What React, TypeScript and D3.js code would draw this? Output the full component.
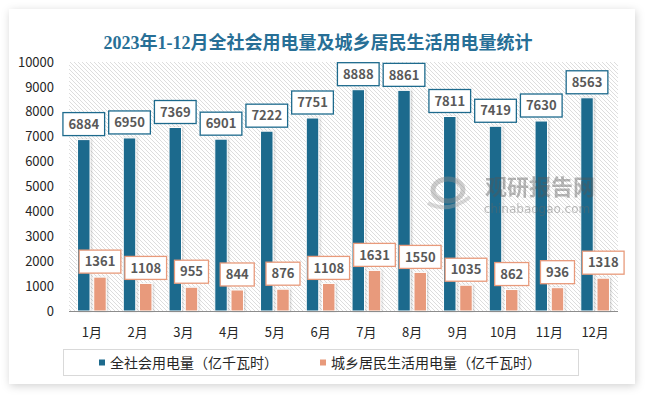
import React, { useRef, useEffect } from "react";
import * as d3 from "d3";

const months = ["1月", "2月", "3月", "4月", "5月", "6月", "7月", "8月", "9月", "10月", "11月", "12月"];
const totalUse = [6884, 6950, 7369, 6901, 7222, 7751, 8888, 8861, 7811, 7419, 7630, 8563];
const residentUse = [1361, 1108, 955, 844, 876, 1108, 1631, 1550, 1035, 862, 936, 1318];
const seriesNames = ["全社会用电量（亿千瓦时）", "城乡居民生活用电量（亿千瓦时）"];
const seriesColors = ["#1d6a8d", "#e89a7b"];
const yTicks = [0, 1000, 2000, 3000, 4000, 5000, 6000, 7000, 8000, 9000, 10000];
const title = "2023年1-12月全社会用电量及城乡居民生活用电量统计";

const W = 647;
const H = 395;
const FONT = "'Noto Sans CJK SC', 'Noto Sans', sans-serif";

const App: React.FC = () => {
  const ref = useRef<SVGSVGElement | null>(null);

  useEffect(() => {
    const svg = d3.select(ref.current);
    svg.selectAll("*").remove();

    const defs = svg.append("defs");
    const hatch = defs
      .append("pattern")
      .attr("id", "hatch")
      .attr("patternUnits", "userSpaceOnUse")
      .attr("width", 4)
      .attr("height", 4);
    hatch.append("rect").attr("width", 4).attr("height", 4).attr("fill", "#ffffff");
    hatch
      .append("path")
      .attr("d", "M-1,-1 L5,5 M-1,3 L1,5 M3,-1 L5,1")
      .attr("stroke", "#d4d4d4")
      .attr("stroke-width", 0.8);

    const cardShadow = defs.append("filter").attr("id", "cardShadow").attr("x", "-5%").attr("y", "-5%").attr("width", "110%").attr("height", "112%");
    cardShadow
      .append("feDropShadow")
      .attr("dx", 1)
      .attr("dy", 2)
      .attr("stdDeviation", 4)
      .attr("flood-color", "#000")
      .attr("flood-opacity", 0.18);

    const barShadow = defs.append("filter").attr("id", "barShadow").attr("x", "-30%").attr("y", "-5%").attr("width", "160%").attr("height", "110%");
    barShadow
      .append("feDropShadow")
      .attr("dx", 1)
      .attr("dy", 0)
      .attr("stdDeviation", 1.2)
      .attr("flood-color", "#000")
      .attr("flood-opacity", 0.2);

    // card
    svg
      .append("rect")
      .attr("x", 9)
      .attr("y", 9)
      .attr("width", 626)
      .attr("height", 375)
      .attr("fill", "#ffffff")
      .attr("filter", "url(#cardShadow)");

    // title
    svg
      .append("text")
      .attr("x", 318)
      .attr("y", 49)
      .attr("text-anchor", "middle")
      .attr("font-family", "'Liberation Serif', 'Noto Sans CJK SC', serif")
      .attr("font-weight", "bold")
      .attr("font-size", 18)
      .attr("fill", "#276f96")
      .text(title);

    const left = 69;
    const right = 618;
    const top = 62;
    const bottom = 311;

    const y = d3.scaleLinear().domain([0, 10000]).range([bottom, top]);
    const x0 = d3.scaleBand<string>().domain(months).range([left, right]).paddingInner(0.373).paddingOuter(0.1865);
    const x1 = d3.scaleBand<number>().domain([0, 1]).range([0, x0.bandwidth()]).paddingInner(0.23);

    // plot background
    svg
      .append("rect")
      .attr("x", left)
      .attr("y", top)
      .attr("width", right - left)
      .attr("height", bottom - top)
      .attr("fill", "url(#hatch)");

    // y axis labels
    svg
      .append("g")
      .selectAll("text")
      .data(yTicks)
      .enter()
      .append("text")
      .attr("x", 54)
      .attr("y", (d) => y(d))
      .attr("dy", "0.36em")
      .attr("text-anchor", "end")
      .attr("font-family", FONT)
      .attr("font-size", 13)
      .attr("fill", "#262626")
      .text((d) => String(d));

    const seriesData = [totalUse, residentUse];

    // bars
    seriesData.forEach((vals, si) => {
      svg
        .append("g")
        .selectAll("rect")
        .data(vals)
        .enter()
        .append("rect")
        .attr("x", (_d, i) => (x0(months[i]) as number) + (x1(si) as number))
        .attr("y", (d) => y(d))
        .attr("width", x1.bandwidth())
        .attr("height", (d) => bottom - y(d))
        .attr("fill", seriesColors[si])
        .attr("stroke", "#ffffff")
        .attr("stroke-width", 1)
        .attr("filter", "url(#barShadow)");
    });

    // watermark (drawn over the bars, like the original)
    const wm = svg.append("g").attr("opacity", 0.42);
    wm.append("ellipse")
      .attr("cx", 448)
      .attr("cy", 190)
      .attr("rx", 15)
      .attr("ry", 11)
      .attr("fill", "none")
      .attr("stroke", "#8a8a8a")
      .attr("stroke-width", 5);
    wm.append("path")
      .attr("d", "M428,203 Q448,214 470,197")
      .attr("fill", "none")
      .attr("stroke", "#a8a8a8")
      .attr("stroke-width", 4);
    wm.append("text")
      .attr("x", 540)
      .attr("y", 195)
      .attr("text-anchor", "middle")
      .attr("font-family", FONT)
      .attr("font-weight", "bold")
      .attr("font-size", 22)
      .attr("fill", "#555")
      .text("观研报告网");
    wm.append("text")
      .attr("x", 537)
      .attr("y", 213)
      .attr("text-anchor", "middle")
      .attr("font-family", "'DejaVu Sans', sans-serif")
      .attr("font-size", 12)
      .attr("fill", "#666")
      .text("chinabaogao.com");

    // baseline
    svg
      .append("line")
      .attr("x1", left)
      .attr("x2", right)
      .attr("y1", bottom + 0.5)
      .attr("y2", bottom + 0.5)
      .attr("stroke", "#8c8c8c")
      .attr("stroke-width", 1);

    // x labels
    svg
      .append("g")
      .selectAll("text")
      .data(months)
      .enter()
      .append("text")
      .attr("x", (d) => (x0(d) as number) + x0.bandwidth() / 2)
      .attr("y", 337)
      .attr("text-anchor", "middle")
      .attr("font-family", FONT)
      .attr("font-size", 13)
      .attr("fill", "#262626")
      .text((d) => d);

    // data labels
    seriesData.forEach((vals, si) => {
      vals.forEach((v, i) => {
        const cx = (x0(months[i]) as number) + (x1(si) as number) + x1.bandwidth() / 2;
        const g = svg.append("g");
        const rect = g.append("rect");
        const t = g
          .append("text")
          .attr("x", cx)
          .attr("text-anchor", "middle")
          .attr("font-family", FONT)
          .attr("font-weight", "bold")
          .attr("font-size", 13)
          .attr("fill", "#595959")
          .text(String(v));
        const tw = (t.node() as SVGTextElement).getComputedTextLength();
        const bw = tw + 11;
        const bh = 23;
        const by = y(v) - 4 - bh;
        t.attr("y", by + bh / 2).attr("dy", "0.36em");
        rect
          .attr("x", cx - bw / 2)
          .attr("y", by)
          .attr("width", bw)
          .attr("height", bh)
          .attr("fill", "#ffffff")
          .attr("stroke", seriesColors[si])
          .attr("stroke-width", 1.3);
      });
    });

    // legend
    const lg = svg.append("g");
    lg.append("rect")
      .attr("x", 63.5)
      .attr("y", 349.5)
      .attr("width", 515)
      .attr("height", 26)
      .attr("fill", "#ffffff")
      .attr("stroke", "#d9d9d9")
      .attr("stroke-width", 1);
    const legendX = [99, 320];
    seriesNames.forEach((name, si) => {
      lg.append("rect")
        .attr("x", legendX[si])
        .attr("y", 359.5)
        .attr("width", 6)
        .attr("height", 6)
        .attr("fill", seriesColors[si]);
      lg.append("text")
        .attr("x", legendX[si] + 11)
        .attr("y", 362.5)
        .attr("dy", "0.36em")
        .attr("font-family", FONT)
        .attr("font-size", 14)
        .attr("fill", "#262626")
        .text(name);
    });
  }, []);

  return (
    <svg
      ref={ref}
      width={W}
      height={H}
      style={{ position: "absolute", left: 0, top: 0, background: "#ffffff" }}
    />
  );
};

export default App;
